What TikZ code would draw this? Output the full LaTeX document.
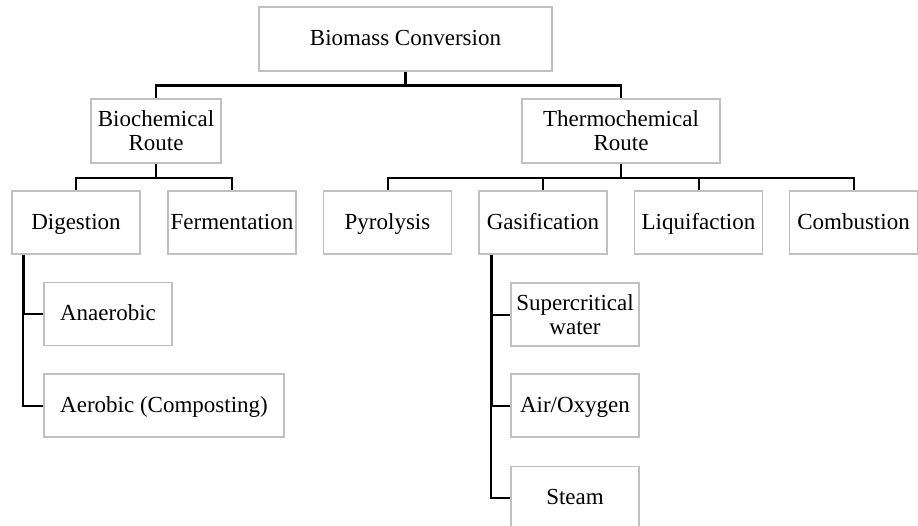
\documentclass[tikz,border=0pt]{standalone}
\usepackage{fontspec}
\setmainfont{Liberation Serif}
\definecolor{boxgrey}{HTML}{C0C0C0}
\begin{document}
\begin{tikzpicture}[x=1pt,y=-1pt,
  box/.style={draw=boxgrey, line width=1.4pt, fill=white, inner sep=0pt,
    align=center, font=\fontsize{23}{24}\selectfont,
    minimum width=128pt, minimum height=63pt},
  onebox/.style={box, text height=17pt, text depth=4pt},
  stem/.style={line width=2.8pt, draw=black},
  branch/.style={line width=2pt, draw=black}]
\useasboundingbox (0,0) rectangle (918,525);
\clip (0,0) rectangle (918,525);

% nodes
\node[onebox, minimum width=293pt, minimum height=64pt] (bio) at (405.5,39) {Biomass Conversion};
\node[box, minimum width=130pt, minimum height=64pt] (biochem) at (156,131) {Biochemical\\Route};
\node[box, minimum width=198pt, minimum height=64pt] (thermo) at (621,131) {Thermochemical\\Route};

\node[onebox] (dig)  at (76,222.5)  {Digestion};
\node[onebox] (ferm) at (232,222.5) {Fermentation};
\node[onebox] (pyro) at (387.5,222.5) {Pyrolysis};
\node[onebox] (gas)  at (543,222.5) {Gasification};
\node[onebox] (liq)  at (698.5,222.5) {Liquifaction};
\node[onebox] (comb) at (853.5,222.5) {Combustion};

\node[onebox] (anaer) at (108,314) {Anaerobic};
\node[onebox, minimum width=240pt] (aer) at (164,405.5) {Aerobic (Composting)};

\node[box] (super) at (575,314.5) {Supercritical\\water};
\node[onebox] (air)   at (575,405.5) {Air/Oxygen};
\node[onebox] (steam) at (575,498) {Steam};

% level 1
\draw[stem] (bio.south) -- ++(0,14) coordinate (busA);
\draw[stem] (busA) -| (biochem.north);
\draw[stem] (busA) -| (thermo.north);

% biochemical
\draw[stem] (biochem.south) -- ++(0,14) coordinate (busB);
\draw[branch] (busB) -| (dig.north);
\draw[branch] (busB) -| (ferm.north);

% thermochemical
\draw[stem] (thermo.south) -- ++(0,14) coordinate (busC);
\draw[branch] (busC) -| (pyro.north);
\draw[branch] (busC) -| (gas.north);
\draw[branch] (busC) -| (liq.north);
\draw[branch] (busC) -| (comb.north);

% digestion sub-branches
\coordinate (dstem) at ([xshift=12pt]dig.south west);
\draw[stem] (dstem) -- (dstem |- anaer.west);
\draw[branch] (dstem |- anaer.west) -- (anaer.west);
\draw[branch] (dstem |- anaer.west) |- (aer.west);

% gasification sub-branches
\coordinate (gstem) at ([xshift=13pt]gas.south west);
\draw[stem] (gstem) -- (gstem |- air.west);
\draw[branch] (gstem |- super.west) -- (super.west);
\draw[branch] (gstem |- air.west) -- (air.west);
\draw[branch] (gstem |- air.west) |- (steam.west);
\end{tikzpicture}
\end{document}
